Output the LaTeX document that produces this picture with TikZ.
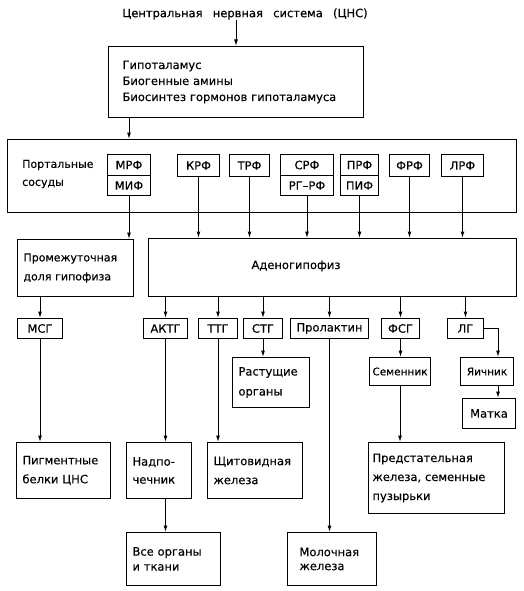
\documentclass[tikz,border=0pt]{standalone}
\usepackage{fontspec}
\setmainfont{DejaVu Sans}[WordSpace=2.8,FakeBold=0.3]
\usetikzlibrary{arrows.meta,calc}

\begin{document}
\begin{tikzpicture}[x=1pt,y=-1pt,
  every node/.style={font=\fontsize{11.5}{18}\selectfont,inner sep=0pt},
  box/.style={draw,line width=1pt,anchor=north west,align=left},
  sz/.style 2 args={minimum width=#1pt,minimum height=#2pt,text width=#1pt-12pt},
  csz/.style 2 args={minimum width=#1pt,minimum height=#2pt,align=center},
  arr/.style={line width=1pt,-{Latex[length=6.5pt,width=4pt]}}]
\useasboundingbox (0,0) rectangle (523,591);

\node (cns) at (245,14) {Центральная нервная система (ЦНС)};

\node[box,sz={255}{71},text width=227pt,font=\fontsize{11.5}{16}\selectfont] (hyp) at (108,46)
  {Гипоталамус\\Биогенные амины\\Биосинтез гормонов гипоталамуса};

\node[box,sz={509}{73}] (portal) at (7,139) {};
\node[anchor=west,align=left,font=\fontsize{11}{18}\selectfont] (portaltxt) at (22,174) {Портальные\\сосуды};

\node[box,csz={43}{21}] (mrf) at (107,154) {МРФ};
\node[box,csz={43}{20}] (mif) at (107,175) {МИФ};
\node[box,csz={42}{22}] (krf) at (177,154) {КРФ};
\node[box,csz={40}{22}] (trf) at (229,154) {ТРФ};
\node[box,csz={53}{21}] (srf) at (280,154) {СРФ};
\node[box,csz={53}{20}] (rgrf) at (280,175) {РГ--РФ};
\node[box,csz={38}{21}] (prf) at (340,154) {ПРФ};
\node[box,csz={38}{20}] (pif) at (340,175) {ПИФ};
\node[box,csz={40}{22}] (frf) at (389,154) {ФРФ};
\node[box,csz={42}{22}] (lrf) at (441,154) {ЛРФ};

\node[box,sz={116}{57},font=\fontsize{11}{19}\selectfont] (inter) at (17,239) {Промежуточная\\доля гипофиза};
\node[box,sz={368}{58}] (adeno) at (148,238) {};
\node (adenotxt) at (296,266) {Аденогипофиз};

\node[box,csz={45}{20}] (msg) at (17,318) {МСГ};
\node[box,csz={44}{20}] (actg) at (143,318) {АКТГ};
\node[box,csz={39}{20}] (ttg) at (198,318) {ТТГ};
\node[box,csz={39}{20}] (stg) at (243,318) {СТГ};
\node[box,csz={78}{20}] (prol) at (290,318) {Пролактин};
\node[box,csz={38}{20}] (fsg) at (381,318) {ФСГ};
\node[box,csz={36}{20}] (lg) at (447,318) {ЛГ};

\node[box,sz={77}{50},font=\fontsize{11.5}{20}\selectfont] (rast) at (232,357) {Растущие\\органы};
\node[box,csz={61}{28},font=\fontsize{10.5}{18}\selectfont] (semen) at (369,357) {Семенник};
\node[box,csz={53}{28},font=\fontsize{10.5}{18}\selectfont] (yaich) at (460,357) {Яичник};
\node[box,csz={53}{30}] (matka) at (462,398) {Матка};

\node[box,sz={94}{56},font=\fontsize{11.5}{19}\selectfont] (pigm) at (16,442) {Пигментные\\белки ЦНС};
\node[box,sz={65}{56}] (nadp) at (126,442) {Надпо-\\чечник};
\node[box,sz={95}{56},font=\fontsize{11.5}{19}\selectfont] (shch) at (207,442) {Щитовидная\\железа};
\node[box,sz={136}{71},text width=128pt,font=\fontsize{11.5}{19}\selectfont] (predst) at (368,442)
  {Предстательная\\железа, семенные\\пузырьки};

\node[box,sz={94}{53},font=\fontsize{11.5}{15}\selectfont] (vse) at (126,532) {Все органы\\и ткани};
\node[box,sz={89}{53},text width=65pt,font=\fontsize{11.5}{14}\selectfont] (moloch) at (287,532) {Молочная\\железа};

\draw[arr] (hyp.north |- cns.south) -- (hyp.north);
\draw[arr] (hyp.south -| mrf.south) -- (portal.north -| mrf.south);

\draw[arr] (mif.south) -- (mif.south |- inter.north);
\draw[arr] (krf.south) -- (krf.south |- adeno.north);
\draw[arr] (trf.south) -- (trf.south |- adeno.north);
\draw[arr] (rgrf.south) -- (rgrf.south |- adeno.north);
\draw[arr] (pif.south) -- (pif.south |- adeno.north);
\draw[arr] (frf.south) -- (frf.south |- adeno.north);
\draw[arr] (lrf.south) -- (lrf.south |- adeno.north);

\draw[arr] (inter.south -| msg.north) -- (msg.north);
\draw[arr] (adeno.south -| actg.north) -- (actg.north);
\draw[arr] (adeno.south -| ttg.north) -- (ttg.north);
\draw[arr] (adeno.south -| stg.north) -- (stg.north);
\draw[arr] (adeno.south -| prol.north) -- (prol.north);
\draw[arr] (adeno.south -| fsg.north) -- (fsg.north);
\draw[arr] (adeno.south -| lg.north) -- (lg.north);

\draw[arr] (msg.south) -- (msg.south |- pigm.north);
\draw[arr] (actg.south) -- (actg.south |- nadp.north);
\draw[arr] (ttg.south) -- (ttg.south |- shch.north);
\draw[arr] (stg.south) -- (stg.south |- rast.north);
\draw[arr] (prol.south) -- (prol.south |- moloch.north);
\draw[arr] (fsg.south) -- (fsg.south |- semen.north);
\draw[arr] (semen.south) -- (semen.south |- predst.north);
\draw[arr] (lg.east) -| ([xshift=11pt]yaich.north);
\draw[arr] ([xshift=11pt]yaich.south) -- ([xshift=11pt]yaich.south |- matka.north);
\draw[arr] (nadp.south -| actg.south) -- (vse.north -| actg.south);

\end{tikzpicture}
\end{document}
